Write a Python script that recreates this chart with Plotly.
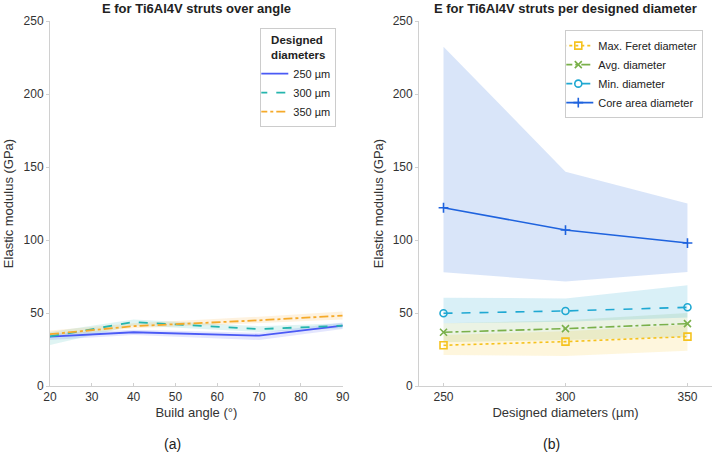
import plotly.graph_objects as go

# ---- data: panel (a) ----
angles = [20, 40, 70, 90]
d_labels = ["250 µm", "300 µm", "350 µm"]
e250 = [33.8, 36.8, 34.5, 41.3]
e250_lo = [31.5, 35.0, 31.5, 39.0]
e250_hi = [36.0, 38.5, 36.5, 43.5]
e300 = [34.0, 43.8, 39.0, 41.3]
e300_lo = [28.0, 41.5, 37.0, 39.5]
e300_hi = [37.0, 45.5, 41.0, 43.0]
e350 = [35.5, 41.0, 45.0, 48.2]
e350_lo = [34.0, 39.5, 43.0, 45.5]
e350_hi = [38.0, 43.0, 47.5, 51.0]

# ---- data: panel (b) ----
diams = [250, 300, 350]
feret = [27.9, 30.4, 33.8]
feret_lo = [21.2, 20.5, 24.2]
feret_hi = [35.0, 37.5, 42.0]
avg = [36.8, 39.3, 42.7]
avg_lo = [30.0, 31.5, 33.5]
avg_hi = [43.0, 45.0, 50.0]
mind = [49.8, 51.4, 53.9]
mind_lo = [43.0, 44.0, 47.0]
mind_hi = [60.5, 60.0, 69.0]
core = [122.1, 106.8, 97.9]
core_lo = [77.9, 71.5, 78.0]
core_hi = [232.4, 146.8, 125.0]

fig = go.Figure()

def band(x, lo, hi, color, xa, ya):
    fig.add_trace(go.Scatter(x=list(x) + list(x)[::-1], y=list(hi) + list(lo)[::-1],
                             fill="toself", fillcolor=color, line=dict(width=0),
                             mode="lines", hoverinfo="skip", showlegend=False,
                             xaxis=xa, yaxis=ya))

# panel (a)
ca = ["#4a5af5", "#25b5ad", "#f5aa2a"]
fa = ["rgba(74,90,245,0.15)", "rgba(37,181,173,0.15)", "rgba(245,170,42,0.15)"]
series_a = [(e250, e250_lo, e250_hi, "solid"), (e300, e300_lo, e300_hi, "dash"), (e350, e350_lo, e350_hi, "dashdot")]
for i, (m, lo, hi, dash) in enumerate(series_a):
    band(angles, lo, hi, fa[i], "x", "y")
for i, (m, lo, hi, dash) in enumerate(series_a):
    fig.add_trace(go.Scatter(x=angles, y=m, mode="lines", name=d_labels[i],
                             line=dict(color=ca[i], width=1.8, dash=dash),
                             xaxis="x", yaxis="y", legend="legend"))

# panel (b)
cb = ["#f5c21e", "#7ab04a", "#1fa8d2", "#1f63de"]
fb = ["rgba(245,194,30,0.15)", "rgba(122,176,74,0.15)", "rgba(31,168,210,0.17)", "rgba(31,99,222,0.17)"]
names_b = ["Max. Feret diameter", "Avg. diameter", "Min. diameter", "Core area diameter"]
series_b = [(feret, feret_lo, feret_hi, "dot", "square-open"),
            (avg, avg_lo, avg_hi, "dashdot", "x-thin-open"),
            (mind, mind_lo, mind_hi, "dash", "circle-open"),
            (core, core_lo, core_hi, "solid", "cross-thin-open")]
for i, (m, lo, hi, dash, sym) in enumerate(series_b):
    band(diams, lo, hi, fb[i], "x2", "y2")
for i, (m, lo, hi, dash, sym) in enumerate(series_b):
    fig.add_trace(go.Scatter(x=diams, y=m, mode="lines+markers", name=names_b[i],
                             line=dict(color=cb[i], width=1.6, dash=dash),
                             marker=dict(symbol=sym, size=7, color=cb[i], line=dict(color=cb[i], width=1.6)),
                             xaxis="x2", yaxis="y2", legend="legend2"))

font = "Liberation Sans, Arial, sans-serif"
axcol = "#d0d0d0"
tickfont = dict(family=font, size=12, color="#333333")
common_y = dict(range=[0, 250], tickvals=[0, 50, 100, 150, 200, 250], showgrid=False, zeroline=False,
                showline=True, linecolor=axcol, linewidth=1, ticks="outside", ticklen=3, tickcolor=axcol,
                tickfont=tickfont, automargin=False,
                title=dict(text="Elastic modulus (GPa)", font=dict(family=font, size=13, color="#333333"), standoff=6))
fig.update_layout(
    width=714, height=456, autosize=False, paper_bgcolor="white", plot_bgcolor="white",
    margin=dict(l=0, r=0, t=21, b=70, autoexpand=False),
    xaxis=dict(domain=[0.070, 0.480], range=[20, 90], tickvals=[20, 30, 40, 50, 60, 70, 80, 90],
               showgrid=False, zeroline=False, showline=True, linecolor=axcol, ticks="inside", ticklen=3,
               tickcolor=axcol, tickfont=tickfont, anchor="y", automargin=False,
               title=dict(text="Build angle (°)", font=dict(family=font, size=13, color="#333333"), standoff=4)),
    yaxis=dict(domain=[0, 1], anchor="x", **common_y),
    xaxis2=dict(domain=[0.587, 0.997], range=[240, 360], tickvals=[250, 300, 350],
                showgrid=False, zeroline=False, showline=True, linecolor=axcol, ticks="inside", ticklen=3,
                tickcolor=axcol, tickfont=tickfont, anchor="y2", automargin=False,
                title=dict(text="Designed diameters (µm)", font=dict(family=font, size=13, color="#333333"), standoff=4)),
    yaxis2=dict(domain=[0, 1], anchor="x2", **common_y),
    legend=dict(x=0.471, xanchor="right", y=0.98, yanchor="top",
                bordercolor="#cccccc", borderwidth=1, bgcolor="white",
                font=dict(family=font, size=11, color="#222222"),
                title=dict(text="<b>Designed<br>diameters</b>", side="top center", font=dict(family=font, size=11.5, color="#222222")),
                tracegroupgap=0, itemwidth=30, indentation=-8),
    legend2=dict(x=0.985, xanchor="right", y=0.975, yanchor="top",
                 bordercolor="#cccccc", borderwidth=1, bgcolor="white",
                 font=dict(family=font, size=11, color="#222222"), tracegroupgap=0, itemwidth=30, indentation=-8),
    annotations=[
        dict(text="<b>E for Ti6Al4V struts over angle</b>", x=0.275, y=1.0, xref="paper", yref="paper",
             xanchor="center", yanchor="bottom", yshift=3, showarrow=False, font=dict(family=font, size=13, color="#222222")),
        dict(text="<b>E for Ti6Al4V struts per designed diameter</b>", x=0.792, y=1.0, xref="paper", yref="paper",
             xanchor="center", yanchor="bottom", yshift=3, showarrow=False, font=dict(family=font, size=13, color="#222222")),
        dict(text="(a)", x=0.242, y=-0.16, xref="paper", yref="paper", xanchor="center", yanchor="middle",
             showarrow=False, font=dict(family=font, size=14, color="#222222")),
        dict(text="(b)", x=0.772, y=-0.16, xref="paper", yref="paper", xanchor="center", yanchor="middle",
             showarrow=False, font=dict(family=font, size=14, color="#222222")),
    ],
)

fig.write_html("out.html", config={"displayModeBar": False},
               post_script="document.body.style.margin='0';document.body.style.overflow='hidden';")
